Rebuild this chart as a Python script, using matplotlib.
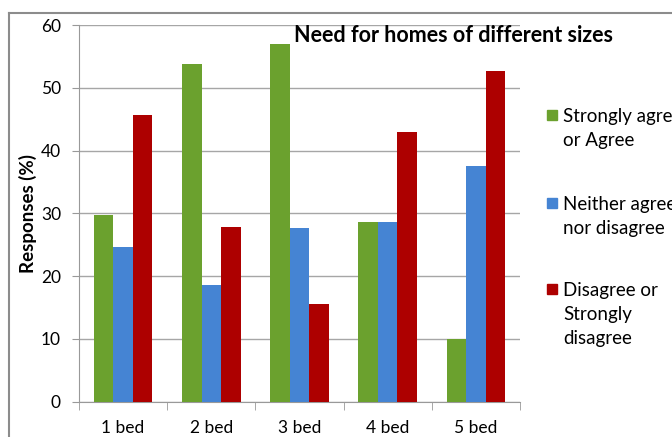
import numpy as np
import matplotlib.pyplot as plt
from matplotlib.patches import Rectangle
from matplotlib.lines import Line2D

plt.rcParams['font.family'] = ['Lato', 'DejaVu Sans']

categories = ['1 bed', '2 bed', '3 bed', '4 bed', '5 bed']
agree = [29.8, 53.8, 57.0, 28.7, 10.0]
neither = [24.6, 18.6, 27.6, 28.7, 37.6]
disagree = [45.7, 27.8, 15.5, 43.0, 52.6]
series_names = ['Strongly agree\nor Agree', 'Neither agree\nnor disagree', 'Disagree or\nStrongly\ndisagree']
colors = ['#6ba12e', '#4584d3', '#ad0000']

fig = plt.figure(figsize=(6.72, 4.37), dpi=100)
ax = fig.add_axes([79/672, 1-401.7/437, (520-79)/672, (401.7-25)/437])

x = np.arange(len(categories))
w = 0.221
for i, (vals, c) in enumerate(zip([agree, neither, disagree], colors)):
    ax.bar(x + (i-1)*w, vals, width=w, color=c, zorder=3)

ax.set_xlim(-0.5, 4.5)
ax.set_ylim(0, 60)
ax.set_yticks(range(0, 61, 10))
ax.set_xticks(x)
ax.set_xticklabels(categories, fontsize=12.5)
ax.tick_params(axis='x', length=0, pad=13)
ax.set_xticks(np.arange(-0.5, 5, 1), minor=True)
ax.tick_params(axis='x', which='minor', length=6, color='#999999')
ax.tick_params(axis='y', labelsize=12.5, length=5, color='#999999', pad=8)
ax.grid(axis='y', color='#a6a6a6', lw=1, zorder=0)
for s in ['top', 'right']:
    ax.spines[s].set_visible(False)
for s in ['left', 'bottom']:
    ax.spines[s].set_color('#999999')
ax.set_ylabel('Responses (%)', fontsize=13.5, fontweight='bold', labelpad=3)

fig.text(454/672, 1-35/437, 'Need for homes of different sizes', ha='center', va='center',
         fontsize=15.5, fontweight='bold')

# outer frame
fig.add_artist(Line2D([9/672, 9/672], [0, 1-13/437], color='#8c8c8c', lw=1.5))
fig.add_artist(Line2D([9/672, 1.2], [1-13/437, 1-13/437], color='#8c8c8c', lw=1.5))

# legend, one line of text at a time
leg_y = [115, 203, 289]
for name, c, y in zip(series_names, colors, leg_y):
    fig.add_artist(Rectangle((547/672, 1-(y+5)/437), 10/672, 10/437, color=c))
    for k, line in enumerate(name.split('\n')):
        fig.text(563/672, 1-(y + 24*k)/437, line, ha='left', va='center_baseline', fontsize=13.5)

fig.savefig('out.png', dpi=100)
